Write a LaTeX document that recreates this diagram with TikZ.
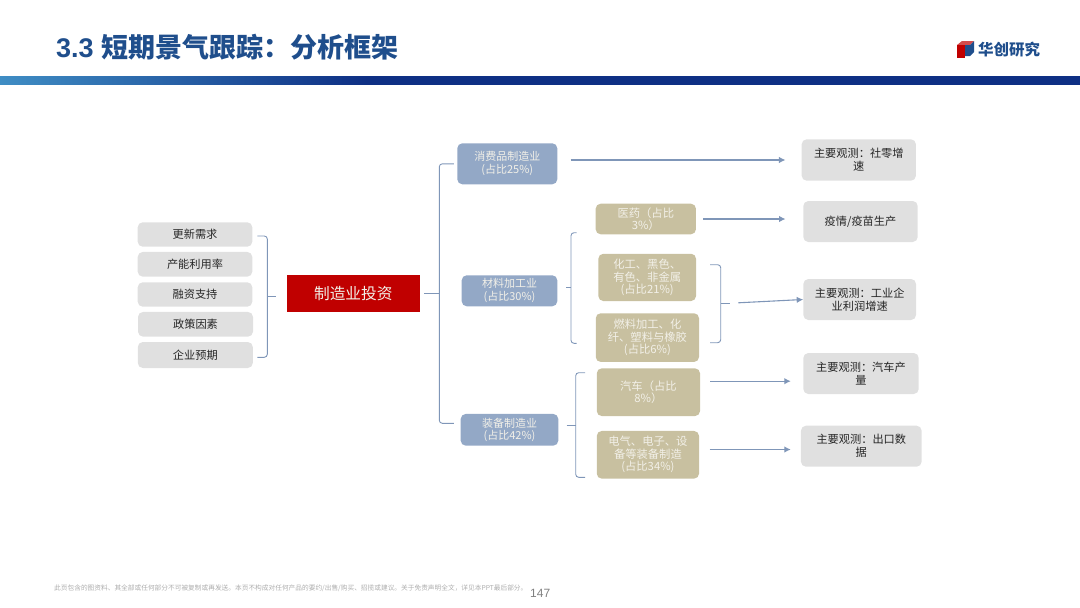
\documentclass[tikz,border=0pt]{standalone}
\usepackage{xcolor}
\usepackage{fontspec}
\setmainfont{Noto Sans CJK SC}
\newfontfamily\latinfont{Liberation Sans}
\definecolor{titleblue}{HTML}{1F4E8C}
\definecolor{barblue}{HTML}{0E2F84}
\definecolor{barlight}{HTML}{3F8DC4}
\definecolor{boxgrey}{HTML}{E0E0E0}
\definecolor{boxblue}{HTML}{93A8C6}
\definecolor{boxtan}{HTML}{C8C0A0}
\definecolor{boxred}{HTML}{C00000}
\definecolor{linkblue}{HTML}{7F96B8}
\definecolor{labeltext}{HTML}{F2F0E8}
\usetikzlibrary{arrows.meta}
\pgfdeclarehorizontalshading{barshade}{100bp}{color(0bp)=(barlight); color(25bp)=(barlight); color(42bp)=(barblue); color(100bp)=(barblue)}
\newcommand{\fwcolon}{^^^^ff1a}
\newcommand{\fwopen}{^^^^ff08}
\newcommand{\fwclose}{^^^^ff09}
\tikzset{
    graybox/.style={fill=boxgrey, rounded corners=5pt, inner sep=0pt, align=center, text=black!85, font=\fontsize{11.2}{13}\selectfont},
    bluebox/.style={fill=boxblue, rounded corners=5pt, inner sep=0pt, align=center, text=labeltext, font=\fontsize{11}{12.7}\selectfont},
    tanbox/.style={fill=boxtan, rounded corners=5pt, inner sep=0pt, align=center, text=labeltext, font=\fontsize{11.3}{12.5}\selectfont},
    bracket/.style={draw=linkblue, line width=0.9pt, rounded corners=3pt},
    arrow/.style={draw=linkblue, line width=1.1pt, -{Latex[length=6.5pt,width=6.5pt]}}
}

\begin{document}
\begin{tikzpicture}[x=1pt, y=-1pt]
    \useasboundingbox (0,0) rectangle (1080,608);

    % Titulo
    \node[anchor=west, inner sep=0pt, text=titleblue, font=\fontsize{27}{30}\selectfont\bfseries] (title) at (56,47.5) {{\latinfont 3.3 }短期景气跟踪\fwcolon 分析框架};
    \shade[shading=barshade] (0,76) rectangle (1080,84);

    % Logo
    \fill[boxred!70!white] (957,45) -- (962,41) -- (974,41) -- (970,45) -- cycle;
    \fill[boxred] (957,45) rectangle (965,58);
    \fill[titleblue] (965,45) rectangle (970,56) -- (974,52) -- (974,41) -- (970,45) -- cycle;
    \node[anchor=west, inner sep=0pt, text=titleblue, font=\fontsize{15.5}{18}\selectfont\bfseries] (logo) at (978,50) {华创研究};

    % Fatores
    \node[graybox, minimum width=114.6pt, minimum height=24.4pt] (renew) at (195,234.5) {更新需求};
    \node[graybox, minimum width=114.6pt, minimum height=24.7pt] (capacity) at (195,264.3) {产能利用率};
    \node[graybox, minimum width=114.6pt, minimum height=24.4pt] (finance) at (195,294.5) {融资支持};
    \node[graybox, minimum width=115pt, minimum height=24.7pt] (policy) at (195.5,324.3) {政策因素};
    \node[graybox, minimum width=115pt, minimum height=26pt] (expect) at (195.3,355) {企业预期};

    % Centro
    \node[fill=boxred, text=labeltext, inner sep=0pt, minimum width=133.3pt, minimum height=37pt, font=\fontsize{15.7}{18}\selectfont] (invest) at (353.3,293.8) {制造业投资};

    % Setores
    \node[bluebox, minimum width=100pt, minimum height=41pt] (consumer) at (507.3,163.8) {消费品制造业\\(占比25\%)};
    \node[bluebox, minimum width=95.6pt, minimum height=31pt] (material) at (509.5,290.8) {材料加工业\\(占比30\%)};
    \node[bluebox, minimum width=97.6pt, minimum height=31.7pt] (equip) at (509.5,429.8) {装备制造业\\(占比42\%)};

    % Subsetores
    \node[tanbox, minimum width=100.3pt, minimum height=30.6pt] (pharma) at (645.8,219) {医药\fwopen 占比\\3\%\fwclose};
    \node[tanbox, minimum width=97.7pt, minimum height=47.3pt] (chem) at (647.2,277.4) {化工、黑色、\\有色、非金属\\(占比21\%)};
    \node[tanbox, minimum width=103.3pt, minimum height=48.7pt] (fuel) at (647.4,337.6) {燃料加工、化\\纤、塑料与橡胶\\(占比6\%)};
    \node[tanbox, minimum width=103.3pt, minimum height=47.7pt] (auto) at (648.4,392.2) {汽车\fwopen 占比\\8\%\fwclose};
    \node[tanbox, minimum width=102.3pt, minimum height=47.7pt] (electric) at (647.9,454.8) {电气、电子、设\\备等装备制造\\(占比34\%)};

    % Observacoes
    \node[graybox, minimum width=114.3pt, minimum height=41.4pt] (retail) at (858.8,160) {主要观测\fwcolon 社零增\\速};
    \node[graybox, minimum width=114.4pt, minimum height=41pt] (vaccine) at (860.5,221.5) {疫情/疫苗生产};
    \node[graybox, minimum width=112.7pt, minimum height=41pt] (profit) at (859.7,299.5) {主要观测\fwcolon 工业企\\业利润增速};
    \node[graybox, minimum width=115.4pt, minimum height=41pt] (output) at (861,373.5) {主要观测\fwcolon 汽车产\\量};
    \node[graybox, minimum width=120.7pt, minimum height=41pt] (export) at (861.3,446.2) {主要观测\fwcolon 出口数\\据};

    % Colchetes
    \coordinate (leftjoin) at (267.3,296.3);
    \coordinate (mainjoin) at (439.3,293.8);
    \coordinate (matjoin) at (571,287.7);
    \coordinate (eqjoin) at (575.7,425);
    \coordinate (chemjoin) at (720.7,303.7);

    \draw[bracket] (257.3,236) -| (leftjoin) |- (257.3,357.3);
    \draw[bracket, rounded corners=0pt, shorten >=10pt] (leftjoin) -- (leftjoin -| invest.west);

    \draw[bracket, rounded corners=0pt, shorten <=4pt] (invest.east) -- (mainjoin);
    \draw[bracket, shorten >=3.3pt] (mainjoin) |- (consumer.west);
    \draw[bracket, shorten >=6.7pt] (mainjoin) |- ([yshift=6.5pt]equip.west);

    \draw[bracket, rounded corners=0pt, shorten <=8.7pt] (material.east |- matjoin) -- (matjoin);
    \draw[bracket] (576.7,232.7) -| (matjoin) |- (576.7,343.3);

    \draw[bracket, rounded corners=0pt, shorten <=8pt] (equip.east |- eqjoin) -- (eqjoin);
    \draw[bracket] (585,372.7) -| (eqjoin) |- (585,477.3);

    \draw[bracket] (710,264.7) -| (chemjoin) |- (710,342.7);
    \draw[bracket, rounded corners=0pt] (chemjoin) -- (730,303.7);

    % Setas
    \draw[arrow, shorten <=13pt, shorten >=16pt] (consumer.east |- retail.west) -- (retail.west);
    \draw[arrow, shorten <=7.3pt, shorten >=17.6pt] (pharma.east) -- (pharma.east -| vaccine.west);
    \draw[arrow, shorten <=17.6pt] (chemjoin) -- (profit.west);
    \draw[arrow, shorten <=10pt, shorten >=12.3pt] ([yshift=11pt]auto.east) -- ([yshift=11pt]auto.east -| output.west);
    \draw[arrow, shorten <=10.3pt, shorten >=10pt] ([yshift=5.3pt]electric.east) -- ([yshift=5.3pt]electric.east -| export.west);

    % Rodape
    \node[anchor=west, inner sep=0pt, text=black!32, font=\fontsize{6.7}{8}\selectfont] (notice) at (54,588) {此页包含的图资料、其全部或任何部分不可被复制或再发送。本页不构成对任何产品的要约/出售/购买、招揽或建议。关于免责声明全文^^^^ff0c详见本PPT最后部分。};
    \node[anchor=west, inner sep=0pt, text=black!50, font=\fontsize{12}{14}\selectfont\latinfont] (page) at (530,593.5) {147};
\end{tikzpicture}
\end{document}
